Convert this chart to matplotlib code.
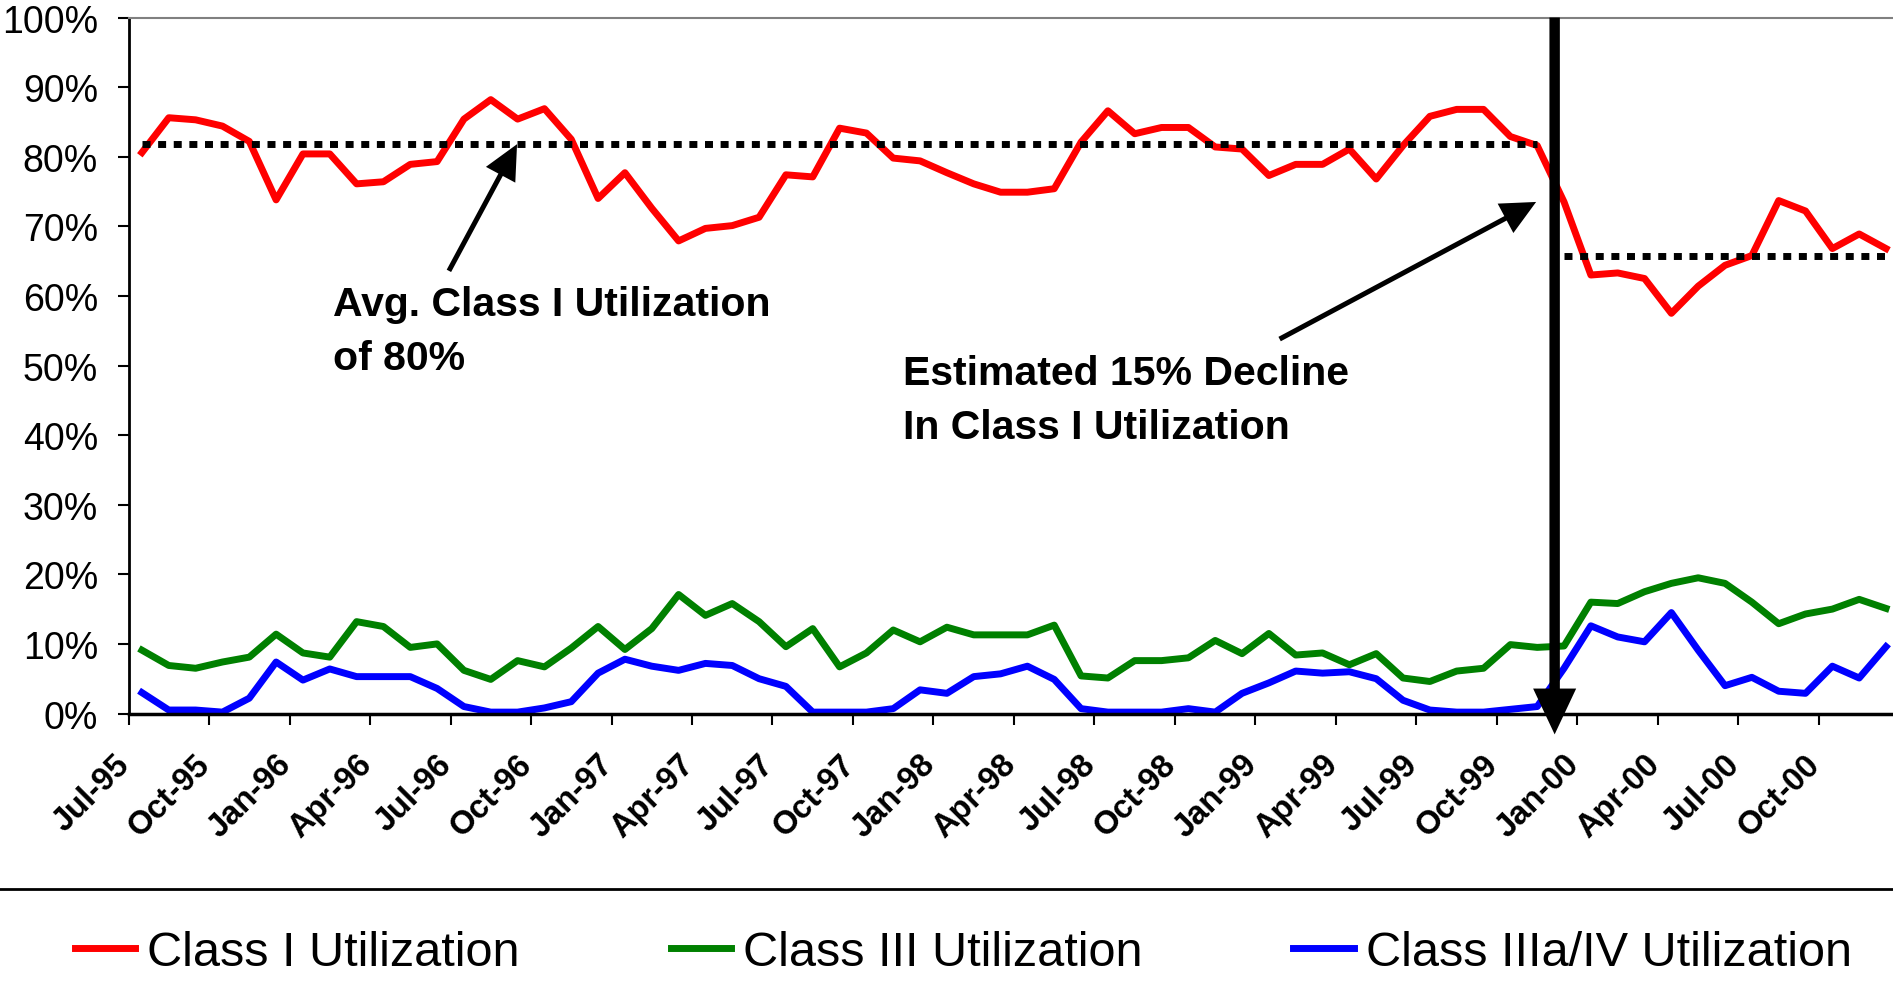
import matplotlib.pyplot as plt
from matplotlib.lines import Line2D
from matplotlib.transforms import ScaledTranslation

plt.rcParams['font.family'] = ['Liberation Sans', 'DejaVu Sans']

# monthly utilization, Jul-95 .. Dec-00 (percent)
tick_labels = ['Jul-95', 'Oct-95', 'Jan-96', 'Apr-96', 'Jul-96', 'Oct-96', 'Jan-97', 'Apr-97',
               'Jul-97', 'Oct-97', 'Jan-98', 'Apr-98', 'Jul-98', 'Oct-98', 'Jan-99', 'Apr-99',
               'Jul-99', 'Oct-99', 'Jan-00', 'Apr-00', 'Jul-00', 'Oct-00']

class1 = [80.6, 85.6, 85.3, 84.4, 82.2, 73.8, 80.4, 80.4, 76.1, 76.4, 78.9, 79.3,
          85.4, 88.2, 85.4, 86.9, 82.5, 74.0, 77.7, 72.6, 67.9, 69.7, 70.1, 71.3,
          77.4, 77.1, 84.1, 83.4, 79.8, 79.4, 77.7, 76.1, 74.9, 74.9, 75.4, 82.1,
          86.6, 83.3, 84.2, 84.2, 81.4, 81.1, 77.3, 78.9, 78.9, 81.1, 76.8, 81.6,
          85.8, 86.8, 86.8, 82.9, 81.6, 73.5, 63.0, 63.3, 62.5, 57.5, 61.4, 64.4,
          65.8, 73.7, 72.2, 66.8, 68.9, 66.8]

class3 = [9.1, 6.9, 6.5, 7.4, 8.1, 11.4, 8.7, 8.1, 13.2, 12.5, 9.5, 10.0,
          6.2, 4.9, 7.6, 6.7, 9.4, 12.5, 9.2, 12.2, 17.1, 14.1, 15.8, 13.2,
          9.6, 12.2, 6.7, 8.7, 12.0, 10.3, 12.4, 11.3, 11.3, 11.3, 12.7, 5.4,
          5.1, 7.6, 7.6, 8.0, 10.5, 8.6, 11.5, 8.4, 8.7, 7.0, 8.6, 5.1,
          4.6, 6.1, 6.5, 9.9, 9.5, 9.7, 16.0, 15.8, 17.5, 18.7, 19.5, 18.7,
          16.0, 12.9, 14.3, 15.0, 16.4, 15.1]

class3a4 = [3.0, 0.5, 0.5, 0.2, 2.2, 7.4, 4.8, 6.4, 5.3, 5.3, 5.3, 3.6,
            1.0, 0.2, 0.2, 0.8, 1.7, 5.8, 7.8, 6.8, 6.2, 7.2, 6.9, 5.0,
            3.9, 0.2, 0.2, 0.2, 0.7, 3.4, 2.9, 5.3, 5.7, 6.8, 4.9, 0.7,
            0.2, 0.2, 0.2, 0.7, 0.2, 2.9, 4.4, 6.1, 5.8, 6.0, 5.0, 1.9,
            0.5, 0.2, 0.2, 0.6, 1.0, 6.5, 12.6, 11.0, 10.3, 14.5, 9.1, 4.0,
            5.2, 3.2, 2.9, 6.8, 5.1, 9.6]

avg_before = 81.8
avg_after = 65.8
split = 53   # first month of the lower average

n = len(class1)
months = list(range(n))

fig = plt.figure(figsize=(18.93, 9.95), dpi=100)
ax = fig.add_axes([0.0679, 0.2819, 0.9355, 0.6995])

ax.plot(months, class1, color='#ff0000', lw=5, label='Class I Utilization')
ax.plot(months, class3, color='#008000', lw=5, label='Class III Utilization')
ax.plot(months, class3a4, color='#0000ff', lw=5, label='Class IIIa/IV Utilization')

ax.plot(months[:split], [avg_before] * split, color='black', lw=5,
        dashes=(1.15, 1.1), dash_capstyle='butt')
ax.plot(months[split:], [avg_after] * (n - split), color='black', lw=5,
        dashes=(1.15, 1.1), dash_capstyle='butt')

ax.set_xlim(-0.5, n - 0.5)
ax.set_ylim(0, 100)
ax.set_yticks(range(0, 101, 10))
ax.set_yticklabels(['%d%%' % v for v in range(0, 101, 10)], fontsize=27)

ax.set_xticks([i - 0.5 for i in range(0, n + 1, 3)])
ax.set_xticklabels([])
ax.set_xticks(range(0, n, 3), minor=True)
ax.set_xticklabels(tick_labels, minor=True, rotation=45, ha='right', va='center',
                   rotation_mode='anchor', fontsize=23.5, fontweight='bold')
ax.tick_params(axis='both', which='major', direction='out', length=8, width=1.5, color='black')
ax.tick_params(axis='y', pad=14)
ax.tick_params(axis='x', which='minor', length=0, pad=33)
shift = ScaledTranslation(-12 / 72, 0, fig.dpi_scale_trans)
for lab in ax.get_xticklabels(minor=True):
  lab.set_transform(lab.get_transform() + shift)

ax.spines['left'].set_linewidth(2)
ax.spines['bottom'].set_linewidth(2.5)
ax.spines['top'].set_color('#808080')
ax.spines['top'].set_linewidth(1.5)
ax.spines['right'].set_visible(False)

ax.text(7.12, 55.0, 'Avg. Class I Utilization\nof 80%', fontsize=29.5, fontweight='bold',
        ha='left', va='center', linespacing=1.53)
ax.text(28.36, 45.1, 'Estimated 15% Decline\nIn Class I Utilization', fontsize=29.5,
        fontweight='bold', ha='left', va='center', linespacing=1.53)

thin = dict(arrowstyle='simple,head_length=25,head_width=24,tail_width=3.6',
            mutation_scale=1, fc='black', ec='none', shrinkA=0, shrinkB=0)
ax.annotate('', xy=(13.98, 81.8), xytext=(11.44, 63.6), arrowprops=thin)
ax.annotate('', xy=(51.96, 73.5), xytext=(42.4, 53.8), arrowprops=thin)
ax.annotate('', xy=(52.65, -3), xytext=(52.65, 100), annotation_clip=False,
            arrowprops=dict(arrowstyle='simple,head_length=33,head_width=31,tail_width=7.5',
                            mutation_scale=1, fc='black', ec='none', shrinkA=0, shrinkB=0))

fig.add_artist(Line2D([0, 1], [1 - 890 / 995] * 2, transform=fig.transFigure,
                      color='black', lw=2))
handles, labels = ax.get_legend_handles_labels()
fig.legend(handles, labels, loc='center left', bbox_to_anchor=(75 / 1893, 1 - 954 / 995),
           ncol=3, frameon=False, fontsize=35, handlelength=1.24, handletextpad=0.25,
           columnspacing=3.1, borderpad=0, borderaxespad=0)

plt.savefig('out.png', dpi=100)
